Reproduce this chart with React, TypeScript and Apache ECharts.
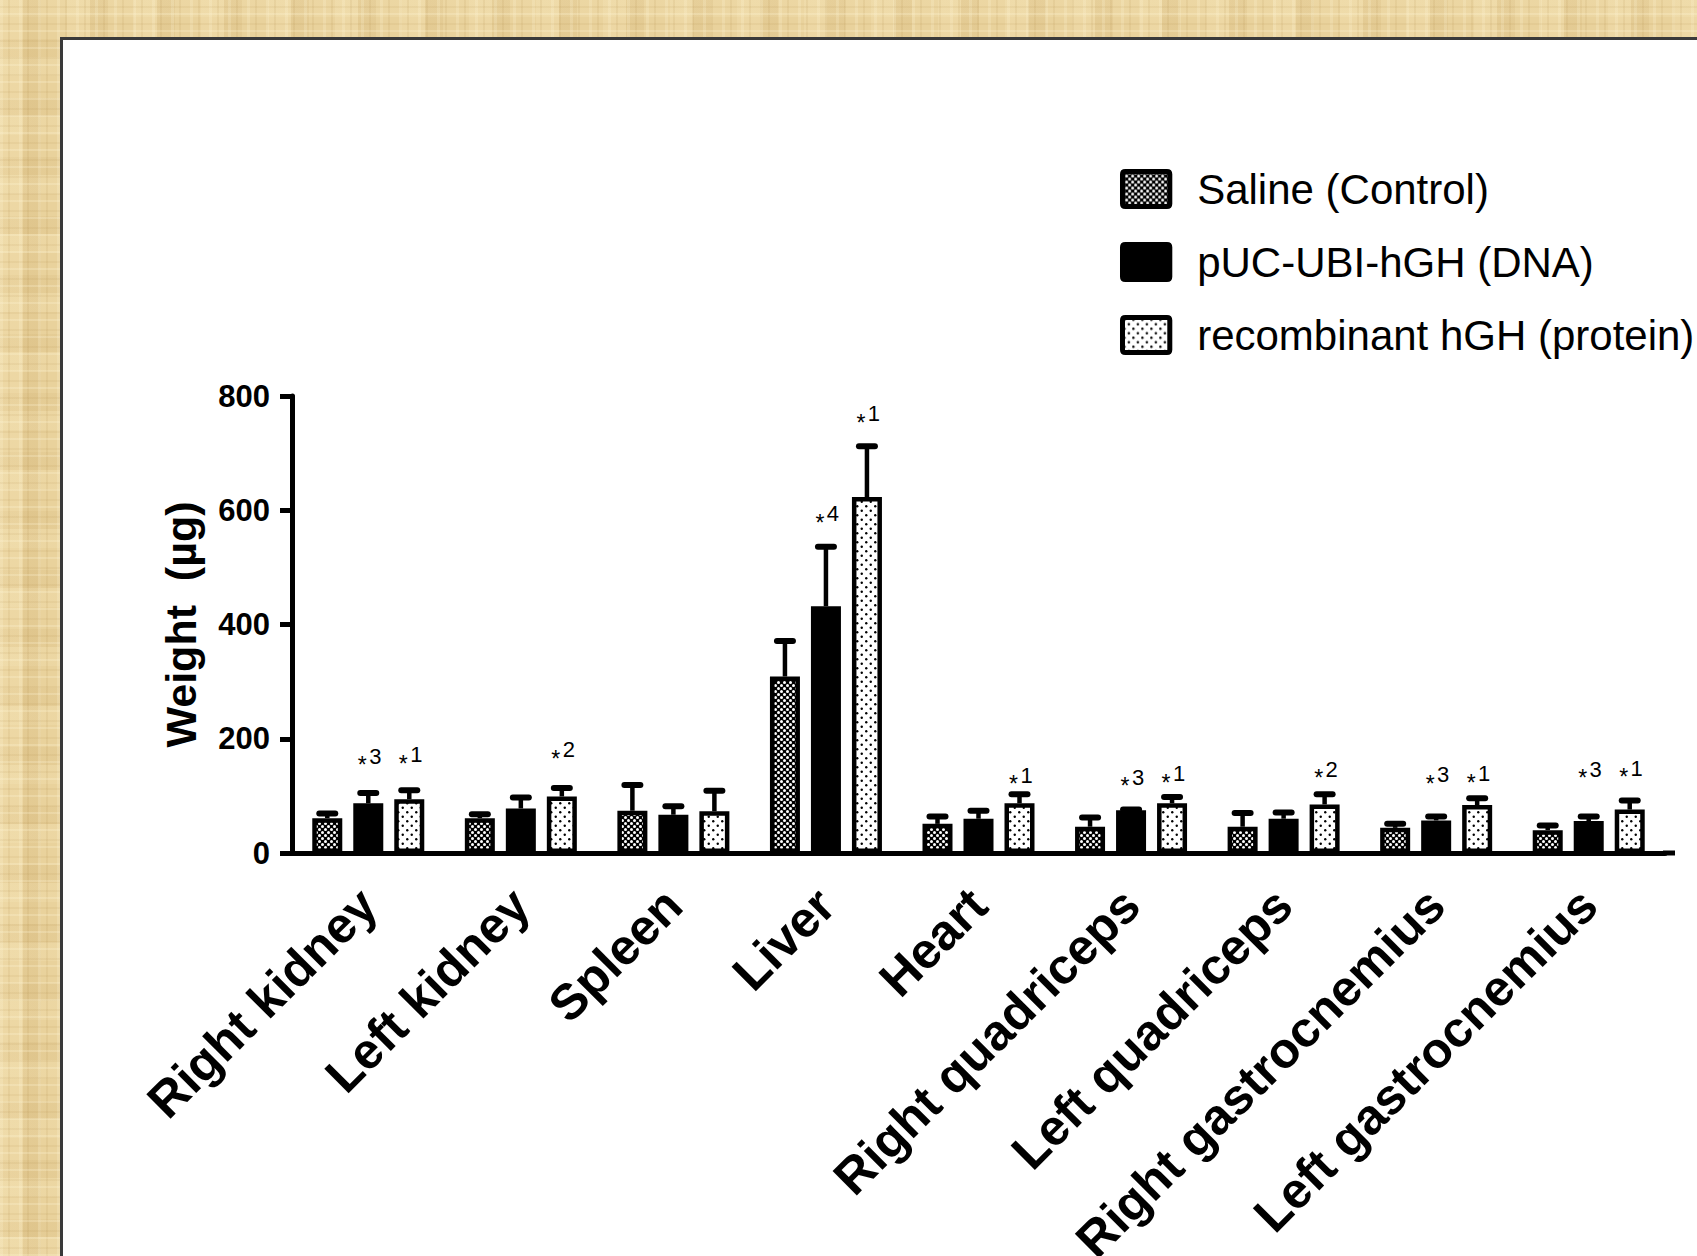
import React, { useEffect, useRef } from 'react';
import * as echarts from 'echarts';

const categories = [
  'Right kidney',
  'Left kidney',
  'Spleen',
  'Liver',
  'Heart',
  'Right quadriceps',
  'Left quadriceps',
  'Right gastrocnemius',
  'Left gastrocnemius',
];
const seriesNames = ['Saline (Control)', 'pUC-UBI-hGH (DNA)', 'recombinant hGH (protein)'];

const saline = [61, 61, 74, 309, 51, 46, 46, 44, 40];
const salineErr = [8, 7, 45, 62, 13, 16, 24, 7, 8];
const dna = [87, 78, 67, 432, 60, 75, 60, 57, 56];
const dnaErr = [18, 19, 15, 104, 14, 1, 11, 7, 8];
const protein = [94, 99, 73, 623, 87, 87, 85, 84, 76];
const proteinErr = [16, 15, 36, 89, 16, 11, 18, 12, 16];

const yTicks = [0, 200, 400, 600, 800];

// significance annotations: category index, series index, label digit, y position (µg)
const annCat = [0, 0, 1, 3, 3, 4, 5, 5, 6, 7, 7, 8, 8];
const annSeries = [1, 2, 2, 1, 2, 2, 1, 2, 2, 1, 2, 1, 2];
const annText = ['3', '1', '2', '4', '1', '1', '3', '1', '2', '3', '1', '3', '1'];
const annY = [168, 170, 179, 592, 767, 134, 131, 137, 145, 135, 137, 145, 147];

const FONT = '"Liberation Sans", Arial, Helvetica, sans-serif';
const BAR_W = 30;
const BAR_STEP = 41;
const LEGEND_ICON =
  'path://M3,0 H47 Q50,0 50,3 V34 Q50,37 47,37 H3 Q0,37 0,34 V3 Q0,0 3,0 Z';

function makePattern(kind: 'saline' | 'protein') {
  const c = document.createElement('canvas');
  const ctx = c.getContext('2d')!;
  if (kind === 'saline') {
    c.width = 6;
    c.height = 6;
    ctx.fillStyle = '#000';
    ctx.fillRect(0, 0, 6, 6);
    ctx.fillStyle = '#fff';
    ctx.beginPath();
    ctx.arc(1.5, 1.5, 1.5, 0, Math.PI * 2);
    ctx.fill();
    ctx.beginPath();
    ctx.arc(4.5, 4.5, 1.5, 0, Math.PI * 2);
    ctx.fill();
  } else {
    c.width = 9;
    c.height = 9;
    ctx.fillStyle = '#fff';
    ctx.fillRect(0, 0, 9, 9);
    ctx.fillStyle = '#000';
    ctx.beginPath();
    ctx.arc(2.25, 2.25, 1.2, 0, Math.PI * 2);
    ctx.fill();
    ctx.beginPath();
    ctx.arc(6.75, 6.75, 1.2, 0, Math.PI * 2);
    ctx.fill();
  }
  return { image: c, repeat: 'repeat' } as any;
}

export default function App() {
  const ref = useRef<HTMLDivElement>(null);

  useEffect(() => {
    document.body.style.margin = '0';
    document.body.style.overflow = 'hidden';
    if (!ref.current) return;
    const chart = echarts.init(ref.current, undefined, { renderer: 'svg' });

    const values = [saline, dna, protein];
    const errs = [salineErr, dnaErr, proteinErr];
    const fills = [makePattern('saline'), '#000', makePattern('protein')];

    const barSeries = values.map((vals, i) => ({
      name: seriesNames[i],
      type: 'bar',
      data: vals,
      barWidth: BAR_W,
      barGap: ((BAR_STEP - BAR_W) / BAR_W) * 100 + '%',
      itemStyle: { color: fills[i], borderColor: '#000', borderWidth: 4.5 },
      z: 2,
    }));

    const errData: number[][] = [];
    values.forEach((vals, s) => {
      vals.forEach((v, c) => errData.push([c, s, v, errs[s][c]]));
    });

    const annData = annCat.map((c, i) => [c, annSeries[i], annY[i], Number(annText[i])]);

    const option: any = {
      animation: false,
      backgroundColor: 'transparent',
      grid: {
        left: 292,
        top: 396,
        width: 1373,
        height: 457,
        containLabel: false,
        outerBoundsMode: 'none',
      },
      legend: {
        orient: 'vertical',
        left: 1115,
        top: 162,
        itemWidth: 48,
        itemHeight: 35,
        itemGap: 29,
        icon: LEGEND_ICON,
        data: seriesNames,
        selectedMode: false,
        itemStyle: { borderColor: '#000', borderWidth: 5 },
        textStyle: {
          fontSize: 42,
          lineHeight: 44,
          color: '#000',
          fontFamily: FONT,
          padding: [0, 0, 0, 22],
        },
      },
      xAxis: {
        type: 'category',
        data: categories,
        axisLine: { lineStyle: { color: '#000', width: 5 } },
        axisTick: { alignWithLabel: true, length: 12, lineStyle: { color: '#000', width: 5 }, interval: 0 },
        axisLabel: {
          interval: 0,
          rotate: 45,
          margin: 44,
          color: '#000',
          fontSize: 50,
          fontWeight: 'bold',
          fontFamily: FONT,
        },
      },
      yAxis: {
        type: 'value',
        min: yTicks[0],
        max: yTicks[yTicks.length - 1],
        interval: yTicks[1] - yTicks[0],
        splitLine: { show: false },
        axisLine: { show: true, lineStyle: { color: '#000', width: 5 } },
        axisTick: { show: true, length: 12, lineStyle: { color: '#000', width: 5 } },
        axisLabel: {
          margin: 22,
          color: '#000',
          fontSize: 31,
          fontWeight: 'bold',
          fontFamily: FONT,
        },
        name: 'Weight  (µg)',
        nameLocation: 'middle',
        nameGap: 90,
        nameTextStyle: { color: '#000', fontSize: 43, fontWeight: 'bold', fontFamily: FONT },
      },
      series: [
        ...barSeries,
        {
          name: 'errors',
          type: 'custom',
          data: errData,
          encode: { x: 0, y: 2 },
          z: 3,
          renderItem: (params: any, api: any) => {
            const c = api.value(0);
            const s = api.value(1);
            const v = api.value(2);
            const e = api.value(3);
            const base = api.coord([c, v]);
            const top = api.coord([c, v + e]);
            const x = base[0] + (s - 1) * BAR_STEP;
            return {
              type: 'group',
              children: [
                {
                  type: 'line',
                  shape: { x1: x, y1: base[1], x2: x, y2: top[1] },
                  style: { stroke: '#000', lineWidth: 4.5 },
                },
                {
                  type: 'line',
                  shape: { x1: x - 8, y1: top[1], x2: x + 8, y2: top[1] },
                  style: { stroke: '#000', lineWidth: 6, lineCap: 'round' },
                },
              ],
            };
          },
        },
        {
          name: 'annotations',
          type: 'custom',
          data: annData,
          encode: { x: 0, y: 2 },
          z: 4,
          renderItem: (params: any, api: any) => {
            const c = api.value(0);
            const s = api.value(1);
            const y = api.value(2);
            const d = api.value(3);
            const p = api.coord([c, y]);
            const x = p[0] + (s - 1) * BAR_STEP;
            return {
              type: 'group',
              children: [
                {
                  type: 'text',
                  style: {
                    text: '*',
                    x: x - 6,
                    y: p[1] + 8,
                    fontSize: 23,
                    fontFamily: FONT,
                    fill: '#000',
                    align: 'center',
                    verticalAlign: 'middle',
                  },
                },
                {
                  type: 'text',
                  style: {
                    text: String(d),
                    x: x + 7,
                    y: p[1] - 1,
                    fontSize: 22,
                    fontFamily: FONT,
                    fill: '#000',
                    align: 'center',
                    verticalAlign: 'middle',
                  },
                },
              ],
            };
          },
        },
      ],
      graphic: [
        {
          type: 'line',
          shape: { x1: 1663, y1: 853, x2: 1675, y2: 853 },
          style: { stroke: '#000', lineWidth: 5 },
        },
      ],
    };

    chart.setOption(option);
    return () => chart.dispose();
  }, []);

  const beige: React.CSSProperties = {
    backgroundColor: '#E9D29C',
    backgroundImage: [
      'repeating-linear-gradient(0deg, rgba(255,246,215,0.25) 0px, rgba(255,246,215,0.25) 2px, transparent 2px, transparent 7px, rgba(160,120,50,0.08) 7px, rgba(160,120,50,0.08) 9px, transparent 9px, transparent 17px)',
      'repeating-linear-gradient(90deg, rgba(255,246,215,0.22) 0px, rgba(255,246,215,0.22) 3px, transparent 3px, transparent 8px, rgba(160,120,50,0.09) 8px, rgba(160,120,50,0.09) 10px, transparent 10px, transparent 19px)',
      'repeating-linear-gradient(90deg, rgba(255,240,200,0.18) 0px, rgba(255,240,200,0.18) 23px, rgba(180,140,70,0.1) 23px, rgba(180,140,70,0.1) 41px, transparent 41px, transparent 67px)',
      'repeating-linear-gradient(0deg, rgba(255,240,200,0.15) 0px, rgba(255,240,200,0.15) 19px, rgba(180,140,70,0.08) 19px, rgba(180,140,70,0.08) 37px, transparent 37px, transparent 59px)',
    ].join(','),
  };

  return (
    <div style={{ position: 'relative', width: 1697, height: 1256, overflow: 'hidden', ...beige }}>
      <div
        style={{
          position: 'absolute',
          left: 60,
          top: 37,
          width: 1700,
          height: 1300,
          background: '#fff',
          borderLeft: '3px solid #3a3a3a',
          borderTop: '3px solid #3a3a3a',
        }}
      />
      <div ref={ref} style={{ position: 'absolute', left: 0, top: 0, width: 1697, height: 1256 }} />
    </div>
  );
}
